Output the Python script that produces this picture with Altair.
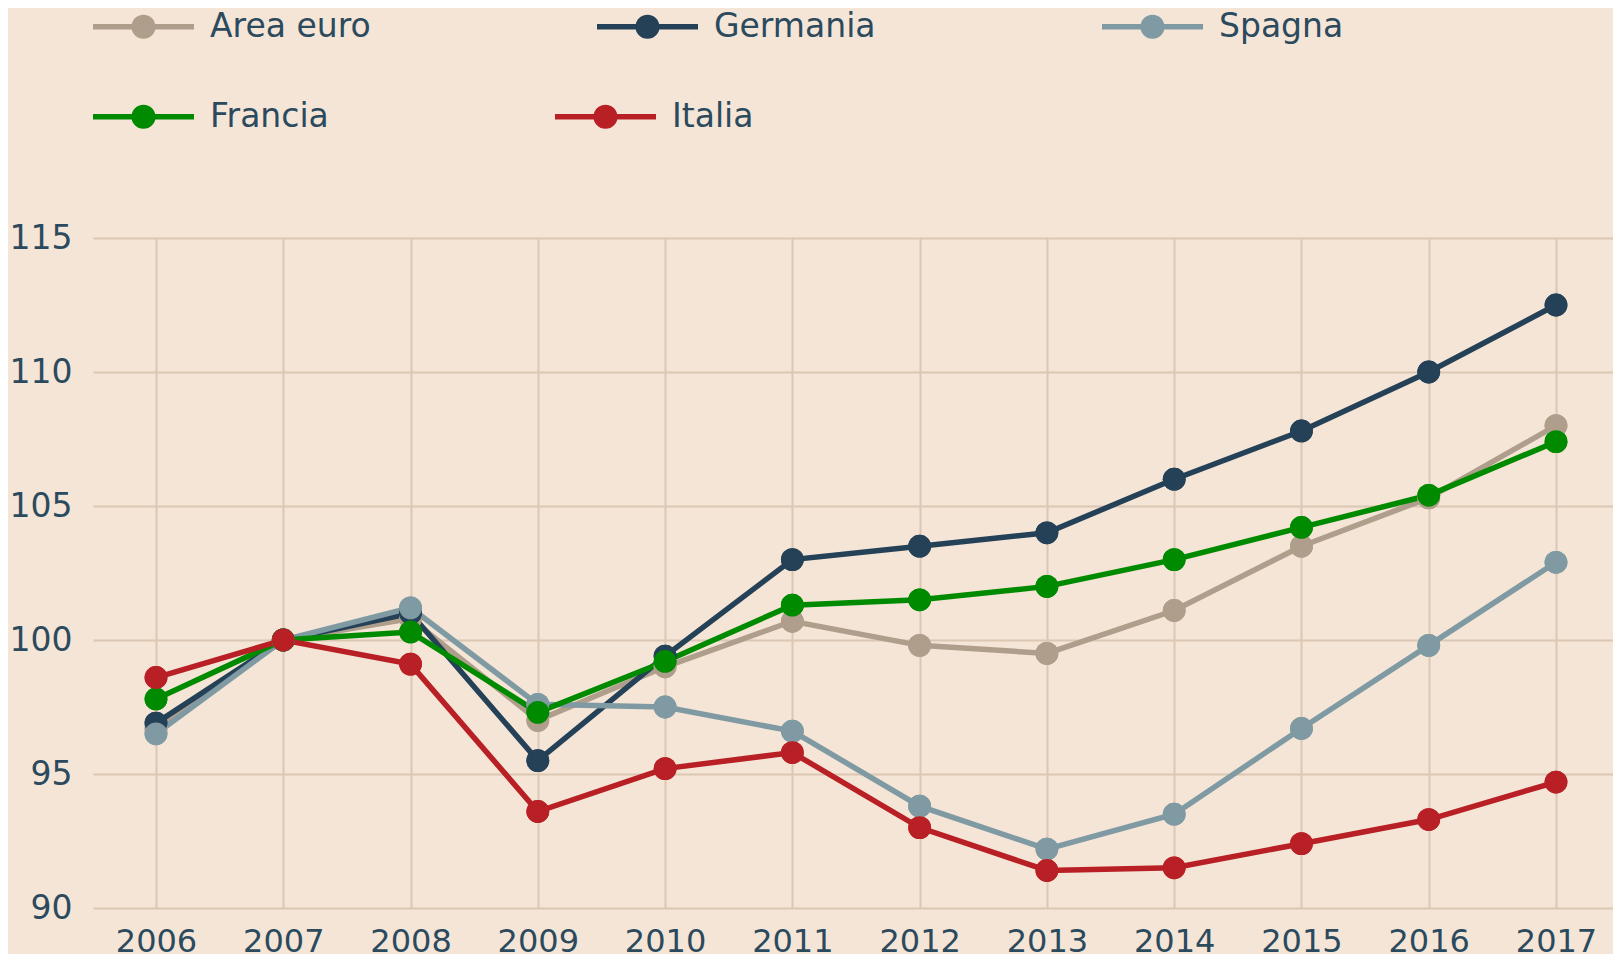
import altair as alt
import pandas as pd

years = ["2006", "2007", "2008", "2009", "2010", "2011", "2012", "2013", "2014", "2015", "2016", "2017"]
area_euro = [96.7, 100.0, 100.8, 97.0, 99.0, 100.7, 99.8, 99.5, 101.1, 103.5, 105.3, 108.0]
germania = [96.9, 100.0, 101.0, 95.5, 99.4, 103.0, 103.5, 104.0, 106.0, 107.8, 110.0, 112.5]
spagna = [96.5, 100.0, 101.2, 97.6, 97.5, 96.6, 93.8, 92.2, 93.5, 96.7, 99.8, 102.9]
francia = [97.8, 100.0, 100.3, 97.3, 99.2, 101.3, 101.5, 102.0, 103.0, 104.2, 105.4, 107.4]
italia = [98.6, 100.0, 99.1, 93.6, 95.2, 95.8, 93.0, 91.4, 91.5, 92.4, 93.3, 94.7]

series_names = ["Area euro", "Germania", "Spagna", "Francia", "Italia"]
series_values = [area_euro, germania, spagna, francia, italia]
colors = ["#b09e8d", "#244157", "#7f9aa2", "#008a00", "#b82025"]
legend_row1 = ["Area euro", "Germania", "Spagna"]
legend_row2 = ["Francia", "Italia"]
y_ticks = [90, 95, 100, 105, 110, 115]

rows = []
for name, vals in zip(series_names, series_values):
    for yr, v in zip(years, vals):
        rows.append({"anno": yr, "valore": v, "serie": name,
                     "serie_linea": name, "serie_b": name})
df = pd.DataFrame(rows)

FONT = "DejaVu Sans"
TEXT = "#2b4a5e"
GRID = "#dcc7b4"

legend_path = ("M-1,-0.055H1V0.055H-1Z "
               "M-0.24,0A0.24,0.24 0 1,1 0.24,0A0.24,0.24 0 1,1 -0.24,0Z")


def make_legend(values, ly):
    return alt.Legend(title=None, orient="none", legendX=0, legendY=ly,
                      direction="horizontal", values=values,
                      symbolType=legend_path, symbolSize=10201,
                      symbolStrokeWidth=0, symbolOpacity=1,
                      labelFontSize=33, labelColor=TEXT, labelFont=FONT, labelLimit=500,
                      labelOffset=16, columnPadding=226, padding=0)


# the same name -> colour mapping, listed in different orders so that
# Vega-Lite keeps the three scales (and their legends) apart
def color_scale(shift):
    dom = series_names[shift:] + series_names[:shift]
    rng = colors[shift:] + colors[:shift]
    return alt.Scale(domain=dom, range=rng)


x_enc = alt.X("anno:O", sort=years,
              scale=alt.Scale(type="point", padding=0.4714, align=0.525),
              axis=alt.Axis(title=None, labelAngle=0, labelPadding=18, labelFontSize=32))
y_enc = alt.Y("valore:Q",
              scale=alt.Scale(domain=[90, 115], nice=False, zero=False),
              axis=alt.Axis(title=None, values=y_ticks, labelPadding=21))

lines = alt.Chart(df).mark_line(strokeWidth=5.5).encode(
    x=x_enc, y=y_enc,
    stroke=alt.Stroke("serie_linea:N", scale=color_scale(2), legend=None),
)

points_a = alt.Chart(df).mark_point(filled=True, size=520, opacity=1, strokeWidth=0).encode(
    x=x_enc, y=y_enc,
    fill=alt.Fill("serie:N", scale=color_scale(0),
                  legend=make_legend(legend_row1, -262)),
)

points_b = alt.Chart(df).mark_point(filled=True, size=520, opacity=1, strokeWidth=0).encode(
    x=x_enc, y=y_enc,
    color=alt.Color("serie_b:N", scale=color_scale(1),
                    legend=make_legend(legend_row2, -172)),
)

chart = alt.layer(lines, points_a, points_b).properties(
    width=1520, height=670,
    autosize=alt.AutoSizeParams(type="none"),
    padding={"left": 85, "top": 230, "right": 0, "bottom": 46},
    background="#f5e5d6",
).configure_view(stroke=None).configure_axis(
    domain=False, ticks=False, grid=True, gridColor=GRID, gridWidth=2,
    labelFont=FONT, labelFontSize=33, labelColor=TEXT,
)

chart.save("out.html", embed_options={"renderer": "svg", "actions": False})
